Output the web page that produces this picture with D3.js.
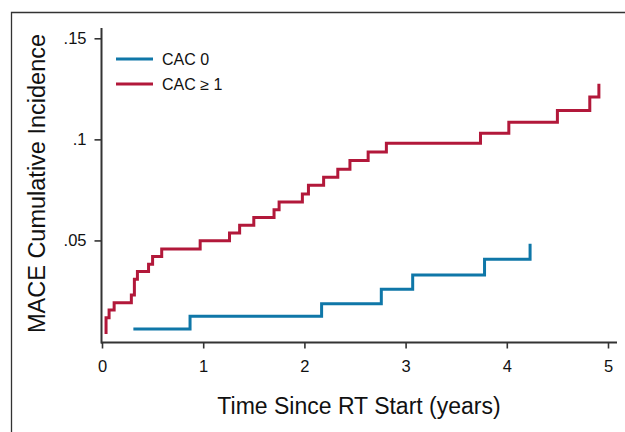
<!DOCTYPE html>
<html lang="en">
<head>
<meta charset="utf-8">
<title>MACE Cumulative Incidence</title>
<script src="https://cdn.jsdelivr.net/npm/d3@7"></script>
<style>
  body { margin: 0; background: #fff; }
  text { font-family: "Liberation Sans", Arial, sans-serif; fill: #111; }
</style>
</head>
<body>
<script>
// values
var cac0Time = [0.31, 0.87, 2.17, 2.76, 3.07, 3.78, 4.23]
var cac0Inc  = [0.0062, 0.0125, 0.0187, 0.0258, 0.0329, 0.0407, 0.0483]

var cac1Time = [0.04, 0.04, 0.07, 0.12, 0.29, 0.32, 0.35, 0.46, 0.50, 0.59, 0.97, 1.26, 1.36, 1.50,
                1.70, 1.75, 1.98, 2.04, 2.19, 2.33, 2.45, 2.63, 2.81, 3.74, 4.02, 4.50, 4.82, 4.91]
var cac1Inc  = [0.0037, 0.0118, 0.0156, 0.0192, 0.0230, 0.0308, 0.0346, 0.0382, 0.0420, 0.0458, 0.0499, 0.0537, 0.0575, 0.0613,
                0.0652, 0.0690, 0.0730, 0.0773, 0.0813, 0.0852, 0.0895, 0.0938, 0.0981, 0.1030, 0.1085, 0.1143, 0.1209, 0.1275]

var xTicks = [0, 1, 2, 3, 4, 5]
var xTickLabels = ["0", "1", "2", "3", "4", "5"]
var yTicks = [0.05, 0.1, 0.15]
var yTickLabels = [".05", ".1", ".15"]

var seriesNames = ["CAC 0", "CAC \u2265 1"]
var seriesColors = ["#0f77a8", "#b2183a"]

var w = 625, h = 432
var svg = d3.select("body").append("svg").attr("width", w).attr("height", h)

// outer frame (only top and left edges show)
svg.append("path")
  .attr("d", "M11.5," + h + "V12.5H" + w)
  .attr("fill", "none").attr("stroke", "#333").attr("stroke-width", 1.3)

var x = d3.scaleLinear().domain([0, 5]).range([102, 608])
var y = d3.scaleLinear().domain([0, 0.15]).range([341.5, 38.3])

// axes
var xAxis = d3.axisBottom(x).tickValues(xTicks)
  .tickFormat(function(d, i) { return xTickLabels[i] })
  .tickSize(6).tickSizeOuter(0).tickPadding(12)
var gx = svg.append("g").attr("transform", "translate(0,342.5)").call(xAxis)
gx.select(".domain").attr("d", "M101,0H617")

var yAxis = d3.axisLeft(y).tickValues(yTicks)
  .tickFormat(function(d, i) { return yTickLabels[i] })
  .tickSize(7).tickSizeOuter(0).tickPadding(8)
var gy = svg.append("g").attr("transform", "translate(101.5,0)").call(yAxis)
gy.select(".domain").attr("d", "M0,28V343.5")

svg.selectAll(".domain").attr("stroke", "#333").attr("stroke-width", 2)
svg.selectAll(".tick line").attr("stroke", "#333").attr("stroke-width", 1.6)
svg.selectAll(".tick text").attr("font-size", 16.5).attr("fill", "#111")

// axis titles
svg.append("text")
  .attr("x", 359).attr("y", 414)
  .attr("text-anchor", "middle").attr("font-size", 23)
  .text("Time Since RT Start (years)")

svg.append("text")
  .attr("transform", "translate(45,183.5) rotate(-90)")
  .attr("text-anchor", "middle").attr("font-size", 23.5)
  .text("MACE Cumulative Incidence")

// step curves
var line = d3.line()
  .x(function(d) { return x(d[0]) })
  .y(function(d) { return y(d[1]) })
  .curve(d3.curveStepAfter)

var series = [d3.zip(cac0Time, cac0Inc), d3.zip(cac1Time, cac1Inc)]

svg.selectAll(".curve")
  .data(series)
  .enter()
  .append("path")
  .attr("class", "curve")
  .attr("d", line)
  .attr("fill", "none")
  .attr("stroke", function(d, i) { return seriesColors[i] })
  .attr("stroke-width", 3)

// legend
var legend = svg.selectAll(".legend")
  .data(seriesNames)
  .enter()
  .append("g")
  .attr("class", "legend")
  .attr("transform", function(d, i) { return "translate(116," + (59 + i * 25) + ")" })

legend.append("line")
  .attr("x1", 0).attr("x2", 37).attr("y1", 0).attr("y2", 0)
  .attr("stroke", function(d, i) { return seriesColors[i] })
  .attr("stroke-width", 3)

legend.append("text")
  .attr("x", 46).attr("y", 5.5)
  .attr("font-size", 16)
  .text(function(d) { return d })
</script>
</body>
</html>
